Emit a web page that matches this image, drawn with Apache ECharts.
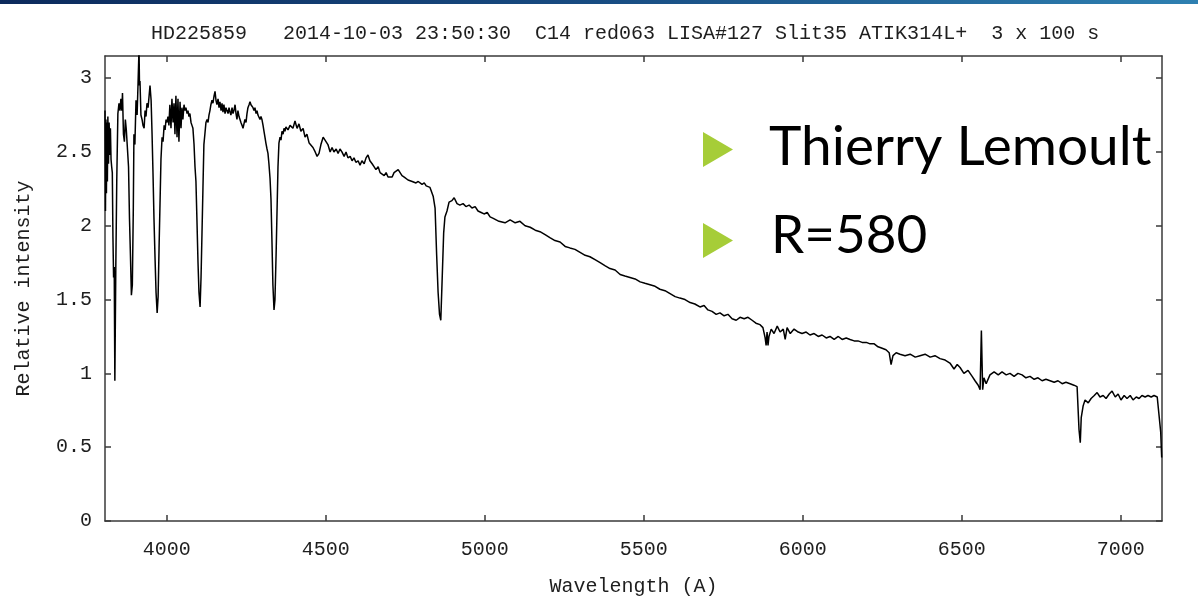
<!DOCTYPE html>
<html>
<head>
<meta charset="utf-8">
<script src="https://cdn.jsdelivr.net/npm/echarts@6/dist/echarts.min.js"></script>
<style>
html,body{margin:0;padding:0;background:#ffffff;}
#c{width:1198px;height:598px;}
</style>
</head>
<body>
<div id="c"></div>
<script>
// ---- tick labels / texts ----
const xTicks = [4000, 4500, 5000, 5500, 6000, 6500, 7000];
const yTicks = [0, 0.5, 1, 1.5, 2, 2.5, 3];
const titleText = 'HD225859   2014-10-03 23:50:30  C14 red063 LISA#127 Slit35 ATIK314L+  3 x 100 s';
const xName = 'Wavelength (A)';
const yName = 'Relative intensity';
const bulletTexts = ['Thierry Lemoult', 'R=580'];

// ---- spectrum segments (wavelength in A, relative intensity) ----
const waveBlue = [3806,3807.5,3809,3810.5,3812,3813.5,3815,3817,3819,3821,3823,3825,3827,3829,3831,3833,3835,3837,3840,3843,3846.5,3850,3853,3856,3859,3861,3864,3867,3870,3873,3876,3880,3883,3886,3889,3892,3895,3897,3900,3903.5,3907,3910,3913,3914.5,3916,3919,3922.5,3925.5,3929,3932,3935,3938,3941.5,3944.5,3947.5,3951,3954,3957,3960,3963.5,3966.5,3970,3973,3976,3979,3982,3985.5,3988.5];
const fluxBlue = [2.78,2.10,2.72,2.22,2.70,2.30,2.74,2.42,2.70,2.48,2.66,2.45,2.40,2.36,1.92,1.65,1.72,0.95,1.72,2.31,2.76,2.83,2.78,2.86,2.78,2.90,2.62,2.57,2.72,2.65,2.66,2.40,2.05,1.80,1.53,1.60,2.11,2.62,2.55,2.85,2.75,2.97,3.20,2.95,2.98,2.75,2.72,2.68,2.66,2.78,2.74,2.83,2.80,2.80,2.95,2.85,2.62,2.35,2.05,1.77,1.55,1.41,1.52,1.85,2.15,2.45,2.60,2.57];

const waveViolet = [3992,3995,3998,4001,4004,4007,4010,4013.5,4016.5,4020,4023,4026,4029,4032.5,4035.5,4038.5,4042,4045,4048,4051,4054.5,4057.5,4060.5,4064,4067,4070,4073,4076.5,4079.5,4082.5,4086,4089,4092,4095,4098.5,4101.5,4105,4108,4111,4114,4117,4120.5,4123.5,4127,4130,4133,4136,4139,4142.5,4145.5,4149,4152,4155,4158,4161.5,4164.5,4167.5,4171,4174,4177,4180,4183.5,4186.5,4189.5,4193,4196,4199,4202,4205.5,4208.5,4211.5,4215,4218,4221,4224,4227.5,4230.5,4233.5,4237,4240,4243,4246,4249.5,4252.5,4255.5,4259,4262,4265,4268,4271.5,4274.5,4277.5,4281,4284,4287,4290,4293.5,4296.5,4299.5,4303,4306,4309,4312,4315.5,4318.5,4321.5,4325,4328,4331,4334,4337.5,4340.5,4344,4347,4350,4353,4356.5,4359.5,4362.5,4366,4369,4372,4375,4381.5];
const fluxViolet = [2.68,2.65,2.72,2.70,2.74,2.68,2.82,2.66,2.86,2.70,2.83,2.62,2.88,2.60,2.86,2.57,2.84,2.66,2.80,2.72,2.82,2.78,2.80,2.76,2.78,2.74,2.76,2.70,2.68,2.66,2.55,2.40,2.30,2.05,1.75,1.55,1.45,1.65,1.95,2.25,2.55,2.63,2.70,2.72,2.70,2.75,2.78,2.82,2.85,2.83,2.88,2.91,2.85,2.82,2.86,2.80,2.84,2.78,2.83,2.77,2.82,2.76,2.80,2.78,2.76,2.80,2.77,2.75,2.80,2.76,2.78,2.82,2.76,2.72,2.78,2.74,2.72,2.70,2.68,2.66,2.67,2.72,2.70,2.76,2.80,2.82,2.84,2.82,2.83,2.80,2.78,2.80,2.76,2.78,2.75,2.76,2.72,2.74,2.72,2.68,2.64,2.60,2.56,2.52,2.49,2.42,2.32,2.18,1.90,1.60,1.43,1.50,1.80,2.10,2.40,2.56,2.60,2.58,2.64,2.62,2.66,2.64,2.67,2.65];

const waveBlueGreen = [4388,4397,4403.5,4410,4416,4422,4429,4435,4441,4448,4454,4460,4467,4473,4479,4485,4492,4495,4501,4507,4514,4520,4526,4533,4539,4545,4551,4558,4564,4570,4577,4583,4589,4595,4602,4608,4614,4621,4627,4633,4639,4646,4652,4658,4665,4671,4677,4684,4690,4696,4702,4709,4715,4721,4728,4734,4740,4747,4753,4759,4765,4772,4778,4784,4791,4797,4803,4810,4816,4822,4828,4838,4844,4849,4853.5,4858,4862,4866,4871,4875,4881.5,4888,4897,4904,4913,4922,4932,4941,4951,4960,4970,4979,4989,4998,5008,5017,5027,5036,5045];
const fluxBlueGreen = [2.68,2.66,2.71,2.66,2.69,2.64,2.66,2.60,2.62,2.56,2.57,2.53,2.50,2.47,2.49,2.55,2.60,2.61,2.57,2.55,2.50,2.53,2.50,2.52,2.49,2.52,2.50,2.47,2.50,2.46,2.47,2.44,2.46,2.43,2.44,2.41,2.44,2.42,2.46,2.48,2.44,2.42,2.40,2.38,2.40,2.36,2.37,2.34,2.36,2.33,2.34,2.33,2.36,2.37,2.38,2.36,2.34,2.33,2.32,2.31,2.31,2.30,2.31,2.29,2.30,2.30,2.28,2.29,2.27,2.28,2.26,2.20,2.12,1.80,1.55,1.40,1.36,1.62,1.95,2.06,2.10,2.16,2.17,2.19,2.15,2.14,2.15,2.13,2.14,2.12,2.13,2.10,2.09,2.08,2.09,2.06,2.05,2.04,2.03];

const waveRed = [5048,5064,5080,5096,5111,5127,5143,5159,5174,5190,5205,5221,5237,5253,5268,5284,5300,5316,5331,5347,5363,5378,5394,5410,5426,5441,5457,5473,5489,5504,5520,5536,5551,5567,5583,5599,5614,5630,5646,5661,5677,5690,5702,5715,5728,5740,5753,5765,5778,5791,5803,5816,5828,5841,5853,5866,5875,5882,5885,5888,5891,5894,5901,5910,5920,5929,5939,5945,5951,5961,5973,5986,5998,6011,6023,6036,6049,6061,6074,6086,6099,6112,6124,6137,6149,6162,6174,6187,6200,6212,6225,6237,6250,6262,6272,6278,6284,6294,6306,6322,6338,6354,6369,6385,6401,6416,6432,6448,6463,6476,6486,6495,6507,6520,6533,6542,6552,6558,6562,6566,6570,6577,6589,6602,6615,6627,6640,6652,6665,6677,6690,6702,6715,6728,6740,6753,6765,6778,6791,6803,6816,6828,6841,6853,6863,6869,6873,6876,6882,6888,6898,6907,6917,6926,6935,6945,6954,6964,6973,6983,6992,7001,7011,7020,7030,7039,7049,7058,7067,7077,7086,7096,7105,7115,7121,7126,7129];
const fluxRed = [2.03,2.02,2.04,2.02,2.03,2.00,1.99,1.97,1.96,1.94,1.92,1.90,1.89,1.86,1.85,1.84,1.82,1.80,1.79,1.77,1.75,1.73,1.71,1.70,1.67,1.66,1.65,1.64,1.62,1.61,1.60,1.59,1.57,1.56,1.54,1.52,1.51,1.50,1.48,1.47,1.45,1.46,1.43,1.42,1.40,1.41,1.39,1.40,1.37,1.36,1.38,1.37,1.38,1.36,1.34,1.33,1.31,1.24,1.19,1.28,1.19,1.25,1.30,1.27,1.32,1.28,1.30,1.23,1.31,1.27,1.30,1.28,1.27,1.28,1.26,1.27,1.25,1.26,1.24,1.25,1.23,1.25,1.23,1.24,1.23,1.22,1.22,1.21,1.21,1.20,1.20,1.18,1.17,1.16,1.14,1.06,1.12,1.14,1.13,1.12,1.13,1.11,1.12,1.13,1.11,1.12,1.10,1.09,1.07,1.03,1.06,1.04,1.00,1.02,0.98,0.95,0.92,0.89,1.29,0.89,0.97,0.93,0.99,1.01,0.99,1.01,0.99,1.00,0.98,1.00,0.99,0.97,0.98,0.96,0.97,0.95,0.96,0.95,0.94,0.95,0.93,0.94,0.93,0.92,0.91,0.62,0.53,0.70,0.78,0.82,0.80,0.83,0.85,0.87,0.84,0.85,0.83,0.86,0.88,0.84,0.86,0.82,0.85,0.83,0.85,0.82,0.84,0.83,0.85,0.84,0.85,0.84,0.85,0.84,0.85,0.60,0.43];

const segments = [[waveBlue, fluxBlue], [waveViolet, fluxViolet], [waveBlueGreen, fluxBlueGreen], [waveRed, fluxRed]];
const spectrum = [];
segments.forEach(function (s) {
  const n = Math.min(s[0].length, s[1].length);
  for (let i = 0; i < n; i++) spectrum.push([s[0][i], s[1][i]]);
});

const monoFont = 'Liberation Mono';
const textColor = '#1e1e1e';
const axisColor = '#3a3a3a';
const bulletColor = '#a6cd38';
const bigFont = 'Lato';

const chart = echarts.init(document.getElementById('c'), null, { renderer: 'canvas' });

function frameAxis(extra) {
  return Object.assign({
    type: 'value',
    axisLine: { show: true, onZero: false, lineStyle: { color: axisColor, width: 1.5 } },
    splitLine: { show: false }
  }, extra);
}
function plain(v) { return String(v); }

const option = {
  animation: false,
  backgroundColor: '#ffffff',
  title: {
    text: titleText,
    left: 146,
    top: 19,
    textStyle: { fontFamily: monoFont, fontSize: 20, fontWeight: 'normal', color: textColor }
  },
  grid: { left: 105, right: 36, top: 56, bottom: 77, containLabel: false, outerBoundsMode: 'none' },
  xAxis: [
    frameAxis({
      min: 3806, max: 7130, position: 'bottom',
      name: xName, nameLocation: 'middle', nameGap: 56,
      nameTextStyle: { fontFamily: monoFont, fontSize: 20, color: textColor },
      axisTick: { show: true, inside: true, length: 6, customValues: xTicks, lineStyle: { color: axisColor, width: 1.5 } },
      axisLabel: { show: true, customValues: xTicks, formatter: plain, margin: 19, fontFamily: monoFont, fontSize: 20, color: textColor }
    }),
    frameAxis({
      min: 3806, max: 7130, position: 'top',
      axisTick: { show: true, inside: true, length: 6, customValues: xTicks, lineStyle: { color: axisColor, width: 1.5 } },
      axisLabel: { show: false }
    })
  ],
  yAxis: [
    frameAxis({
      min: 0, max: 3.15, position: 'left',
      name: yName, nameLocation: 'middle', nameGap: 71, nameRotate: 90,
      nameTextStyle: { fontFamily: monoFont, fontSize: 20, color: textColor },
      axisTick: { show: true, inside: true, length: 6, customValues: yTicks, lineStyle: { color: axisColor, width: 1.5 } },
      axisLabel: { show: true, customValues: yTicks, formatter: plain, margin: 13, fontFamily: monoFont, fontSize: 20, color: textColor }
    }),
    frameAxis({
      min: 0, max: 3.15, position: 'right',
      axisTick: { show: true, inside: true, length: 6, customValues: yTicks, lineStyle: { color: axisColor, width: 1.5 } },
      axisLabel: { show: false }
    })
  ],
  series: [{
    type: 'line',
    xAxisIndex: 0,
    yAxisIndex: 0,
    data: spectrum,
    showSymbol: false,
    symbol: 'none',
    clip: true,
    lineStyle: { color: '#000000', width: 1.5 }
  }],
  graphic: [
    {
      type: 'rect', left: 0, top: 0, silent: true,
      shape: { x: 0, y: 0, width: 1198, height: 4 },
      style: { fill: new echarts.graphic.LinearGradient(0, 0, 1, 0, [
        { offset: 0, color: '#0c2a5c' },
        { offset: 0.5, color: '#184c82' },
        { offset: 1, color: '#2e80b1' }
      ]) }
    },
    {
      type: 'polygon', silent: true,
      shape: { points: [[703, 132], [733, 149.5], [703, 167]] },
      style: { fill: bulletColor }
    },
    {
      type: 'polygon', silent: true,
      shape: { points: [[703, 223], [733, 240.5], [703, 258]] },
      style: { fill: bulletColor }
    },
    {
      type: 'text', silent: true,
      style: { x: 769, y: 147, text: bulletTexts[0], fontFamily: bigFont, fontSize: 55, fill: '#000000', align: 'left', verticalAlign: 'middle' }
    },
    {
      type: 'text', silent: true,
      style: { x: 771, y: 236, text: bulletTexts[1], fontFamily: bigFont, fontSize: 53, fill: '#000000', align: 'left', verticalAlign: 'middle' }
    }
  ]
};

chart.setOption(option);
</script>
</body>
</html>
